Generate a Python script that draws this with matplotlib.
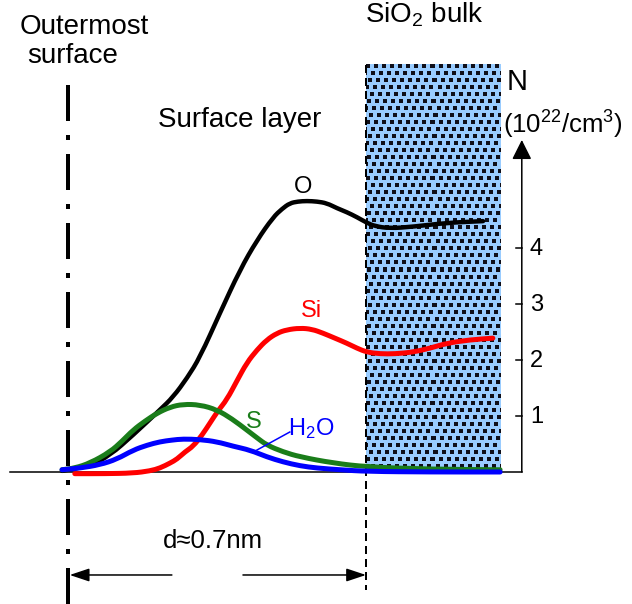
import numpy as np
import matplotlib
matplotlib.use('Agg')
import matplotlib.pyplot as plt
from matplotlib.patches import ArrowStyle, PathPatch
from matplotlib.path import Path

plt.rcParams['font.family'] = ['Liberation Sans', 'DejaVu Sans']
plt.rcParams['mathtext.fontset'] = 'custom'
plt.rcParams['mathtext.rm'] = 'Liberation Sans'
plt.rcParams['mathtext.default'] = 'regular'

# depth below outermost surface (nm) and concentration N (10^22/cm^3)
o_depth = [-0.014, 0.052, 0.099, 0.153, 0.216, 0.247, 0.280, 0.310, 0.357, 0.404, 0.444, 0.482,
           0.503, 0.521, 0.540, 0.561, 0.585, 0.608, 0.632, 0.655, 0.679, 0.702, 0.721, 0.756,
           0.810, 0.890, 0.975]
o_conc = [0.02, 0.11, 0.30, 0.66, 1.11, 1.34, 1.68, 2.05, 2.84, 3.61, 4.14, 4.55,
          4.70, 4.80, 4.83, 4.84, 4.83, 4.80, 4.71, 4.64, 4.55, 4.45, 4.39, 4.35,
          4.38, 4.45, 4.48]

si_depth = [0.016, 0.087, 0.153, 0.193, 0.216, 0.240, 0.256, 0.275, 0.294, 0.315, 0.334, 0.352,
            0.373, 0.397, 0.420, 0.444, 0.467, 0.491, 0.514, 0.545, 0.573, 0.599, 0.627, 0.655,
            0.679, 0.702, 0.733, 0.768, 0.810, 0.850, 0.890, 0.944, 0.998]
si_conc = [-0.03, -0.03, -0.02, 0.02, 0.07, 0.16, 0.23, 0.36, 0.46, 0.66, 0.88, 1.09,
           1.29, 1.63, 1.95, 2.18, 2.36, 2.48, 2.54, 2.57, 2.55, 2.48, 2.39, 2.30,
           2.21, 2.14, 2.11, 2.11, 2.14, 2.21, 2.30, 2.36, 2.39]

s_depth = [-0.014, 0.016, 0.052, 0.099, 0.127, 0.153, 0.181, 0.209, 0.240, 0.270, 0.310, 0.350,
           0.385, 0.420, 0.444, 0.467, 0.505, 0.545, 0.623, 0.702, 0.850, 1.015]
s_conc = [0.04, 0.07, 0.16, 0.36, 0.55, 0.75, 0.91, 1.05, 1.16, 1.21, 1.20, 1.11,
          0.95, 0.75, 0.61, 0.48, 0.36, 0.27, 0.16, 0.09, 0.05, 0.04]

h2o_depth = [-0.014, 0.028, 0.075, 0.115, 0.153, 0.186, 0.216, 0.244, 0.270, 0.310, 0.350, 0.388,
             0.428, 0.467, 0.505, 0.545, 0.585, 0.639, 0.702, 0.850, 1.015]
h2o_conc = [0.04, 0.07, 0.13, 0.23, 0.39, 0.48, 0.54, 0.57, 0.59, 0.58, 0.54, 0.46,
            0.39, 0.27, 0.18, 0.11, 0.07, 0.04, 0.01, 0.0, 0.0]

tick_vals = [1, 2, 3, 4]
tick_labels = ['1', '2', '3', '4']

layer_d = 0.7      # surface layer thickness, nm
bulk_end = 1.015   # right edge of the SiO2 block
bulk_top = 7.27
axis_x = 1.066
axis_top = 5.93

px_x = 425.7  # pixels per nm
px_y = 56.0   # pixels per unit N


def smooth_curve(ax, xs, ys, **kw):
    # quadratic bezier through midpoints of the read points
    pts = np.column_stack([xs, ys])
    verts = [pts[0], (pts[0] + pts[1]) / 2]
    codes = [Path.MOVETO, Path.LINETO]
    for i in range(1, len(pts) - 1):
        verts += [pts[i], (pts[i] + pts[i + 1]) / 2]
        codes += [Path.CURVE3, Path.CURVE3]
    verts.append(pts[-1])
    codes.append(Path.LINETO)
    ax.add_patch(PathPatch(Path(verts, codes), fill=False, capstyle='round',
                           joinstyle='round', **kw))


fig = plt.figure(figsize=(6.32, 6.04), dpi=100)
ax = fig.add_axes([0, 0, 1, 1])
ax.set_xlim(-68 / px_x, 564 / px_x)
ax.set_ylim(-132 / px_y, 472 / px_y)
ax.axis('off')

# SiO2 bulk texture: light blue with diagonal staggered black squares
h, w = 407, 134
yy, xx = np.mgrid[0:h, 0:w]
row = yy // 7
dots = (((xx + 3 * row) % 8) < 4) & ((yy % 7) < 4)
tex = np.ones((h, w, 3)) * np.array([0.60, 0.80, 1.0])
tex[dots] = [0.06, 0.06, 0.1]
ax.imshow(tex, extent=(layer_d, bulk_end, 0, bulk_top), aspect='auto',
          interpolation='nearest', zorder=0)

# boundaries
ax.plot([0, 0], [6.911, -2.357], color='k', lw=2.88,
        linestyle=(0, (9, 3.5, 1.25, 3.5)), zorder=3)
ax.plot([layer_d, layer_d], [bulk_top, -2.107], color='k', lw=1.44,
        linestyle=(0, (4, 2.5)), zorder=1)

# baseline and N axis
ax.plot([-0.136, axis_x], [0, 0], color='k', lw=1.1, zorder=1)
ax.annotate('', xy=(axis_x, axis_top), xytext=(axis_x, 0),
            arrowprops=dict(arrowstyle=ArrowStyle('-|>', head_length=0.6, head_width=0.3),
                            mutation_scale=20, color='k', lw=1.1, shrinkA=0, shrinkB=0))
for v, lab in zip(tick_vals, tick_labels):
    ax.plot([axis_x - 6 / px_x, axis_x], [v, v], color='k', lw=1.1)
    ax.text(axis_x + 8 / px_x, v - 7 / px_y, lab, fontsize=17, ha='left', va='baseline')

# concentration profiles
smooth_curve(ax, o_depth, o_conc, edgecolor='k', lw=3.2, zorder=4)
smooth_curve(ax, si_depth, si_conc, edgecolor='#ff0000', lw=3.6, zorder=5)
smooth_curve(ax, s_depth, s_conc, edgecolor='#1a7d1a', lw=3.6, zorder=6)
smooth_curve(ax, h2o_depth, h2o_conc, edgecolor='#0000ff', lw=3.6, zorder=7)

ax.text(0.552, 4.98, 'O', fontsize=17, ha='center', va='baseline')
ax.text(0.573, 2.77, 'Si', fontsize=17, ha='center', va='baseline', color='#ff0000')
ax.text(0.437, 0.79, 'S', fontsize=17, ha='center', va='baseline', color='#1a7d1a')
ax.text(0.517, 0.66, 'H$_2$O', fontsize=17, ha='left', va='baseline', color='#0000ff')
ax.plot([0.444, 0.521], [0.393, 0.714], color='#0000ff', lw=1.1, zorder=8)

# labels
ax.text(-0.113, 7.82, 'Outermost', fontsize=20, ha='left', va='baseline')
ax.text(-0.096, 7.30, 'surface', fontsize=20, ha='left', va='baseline')
ax.text(0.211, 6.16, 'Surface layer', fontsize=20, ha='left', va='baseline')
ax.text(0.698, 8.018, 'SiO$_2$ bulk', fontsize=20, ha='left', va='baseline')
ax.text(1.031, 6.821, 'N', fontsize=21, ha='left', va='baseline')
ax.text(1.022, 6.036, '(10$^{22}$/cm$^3$)', fontsize=18.5, ha='left', va='baseline')

# thickness dimension
ax.text(layer_d * 0.487, -1.357, 'd\u22480.7nm', fontsize=18.5, ha='center', va='baseline')
arrow = dict(arrowstyle=ArrowStyle('-|>', head_length=0.6, head_width=0.2),
             mutation_scale=20, color='k', lw=1.1, shrinkA=0, shrinkB=0)
ax.annotate('', xy=(0.004, -1.839), xytext=(0.244, -1.839), arrowprops=arrow)
ax.annotate('', xy=(layer_d, -1.839), xytext=(0.411, -1.839), arrowprops=arrow)

fig.savefig('out.png', dpi=100)
